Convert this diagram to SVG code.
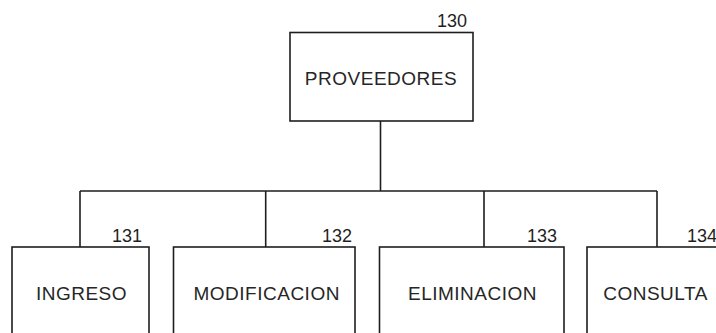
<svg xmlns="http://www.w3.org/2000/svg" width="716" height="333" viewBox="0 0 716 333">
<style>
.box{fill:#fff;stroke:#1e1e1e;stroke-width:1.6}
.ln{fill:none;stroke:#1e1e1e;stroke-width:1.6}
.lbl{font-family:"Liberation Sans",Arial,sans-serif;font-size:19px;letter-spacing:0.5px;fill:#262626;text-anchor:middle}
.num{font-family:"Liberation Sans",Arial,sans-serif;font-size:18px;fill:#1e1e1e;text-anchor:end}
</style>
<rect width="716" height="333" fill="#fff"/>
<g id="connectors">
<path class="ln" d="M380.5 121 V191 M80 191 H657 M80 191 V247 M265.7 191 V247 M484 191 V247 M657 191 V247"/>
</g>
<g id="n130">
<rect class="box" x="290" y="32.5" width="183" height="88.5"/>
<text class="num" x="467" y="27">130</text>
<text class="lbl" x="381" y="85">PROVEEDORES</text>
</g>
<g id="n131">
<rect class="box" x="12" y="247" width="137" height="100"/>
<text class="num" x="142" y="242">131</text>
<text class="lbl" x="81.5" y="300">INGRESO</text>
</g>
<g id="n132">
<rect class="box" x="173.5" y="247" width="181.5" height="100"/>
<text class="num" x="352" y="242">132</text>
<text class="lbl" x="266.7" y="300">MODIFICACION</text>
</g>
<g id="n133">
<rect class="box" x="379.5" y="247" width="184.5" height="100"/>
<text class="num" x="557" y="242">133</text>
<text class="lbl" x="472.5" y="300">ELIMINACION</text>
</g>
<g id="n134">
<rect class="box" x="587" y="247" width="160" height="100"/>
<text class="num" x="717" y="242">134</text>
<text class="lbl" x="655.5" y="300">CONSULTA</text>
</g>
</svg>
